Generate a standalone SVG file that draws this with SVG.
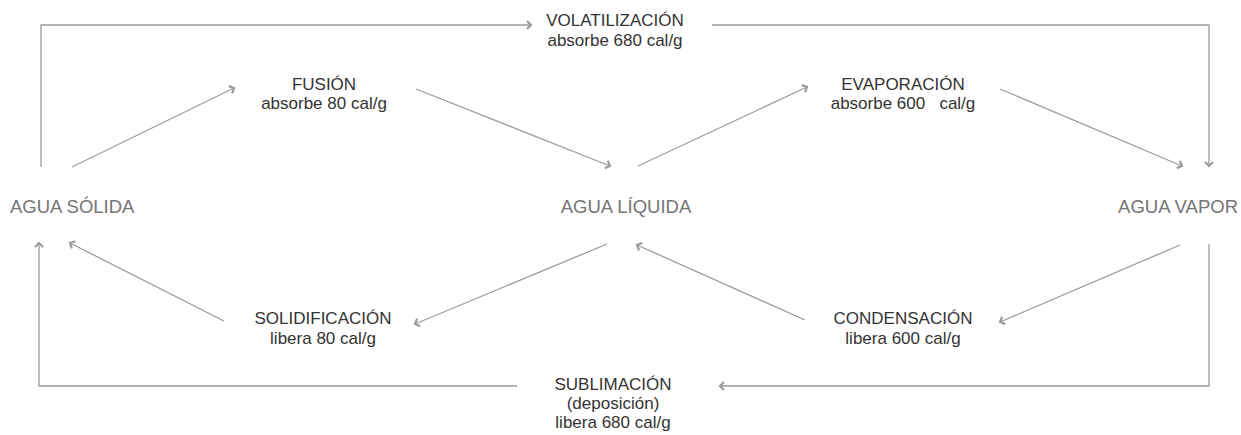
<svg xmlns="http://www.w3.org/2000/svg" width="1241" height="435" viewBox="0 0 1241 435">
<style>
.state{font-family:"Liberation Sans",Arial,sans-serif;font-size:18.5px;fill:#757575}
.lbl{font-family:"Liberation Sans",Arial,sans-serif;font-size:17px;fill:#333333;text-anchor:middle}
.conn{fill:none;stroke:#9c9c9c;stroke-width:1.3;marker-end:url(#arr)}
</style>
<defs>
<marker id="arr" markerUnits="userSpaceOnUse" markerWidth="10" markerHeight="12" refX="6" refY="5" orient="auto" viewBox="0 0 10 10">
<path d="M2,1 L6,5 L2,9" fill="none" stroke="#9c9c9c" stroke-width="2.2"/>
</marker>
</defs>
<rect width="1241" height="435" fill="#ffffff"/>
<g id="connectors">
<polyline class="conn" points="41,167 41,25 531,25"/>
<polyline class="conn" points="712,25 1209,25 1209,166"/>
<line class="conn" x1="72" y1="167" x2="234" y2="88"/>
<line class="conn" x1="416" y1="89" x2="610" y2="166"/>
<line class="conn" x1="638" y1="166" x2="807" y2="87"/>
<line class="conn" x1="1000" y1="89" x2="1182" y2="166"/>
<polyline class="conn" points="1209,244 1209,386 720,386"/>
<polyline class="conn" points="517,386 39,386 39,243"/>
<line class="conn" x1="224" y1="321" x2="70" y2="243"/>
<line class="conn" x1="607" y1="244" x2="415" y2="324"/>
<line class="conn" x1="805" y1="320" x2="637" y2="245"/>
<line class="conn" x1="1180" y1="245" x2="1000" y2="322"/>
</g>
<g id="solida"><text class="state" x="10" y="213">AGUA SÓLIDA</text></g>
<g id="liquida"><text class="state" x="626" y="213" text-anchor="middle">AGUA LÍQUIDA</text></g>
<g id="vapor"><text class="state" x="1238" y="213" text-anchor="end">AGUA VAPOR</text></g>
<g id="volatilizacion"><text class="lbl" x="615" y="26">VOLATILIZACIÓN</text><text class="lbl" x="615" y="46">absorbe 680 cal/g</text></g>
<g id="fusion"><text class="lbl" x="324" y="90">FUSIÓN</text><text class="lbl" x="324" y="109">absorbe 80 cal/g</text></g>
<g id="evaporacion"><text class="lbl" x="903" y="90">EVAPORACIÓN</text><text class="lbl" x="903" y="109" xml:space="preserve" style="white-space:pre">absorbe 600   cal/g</text></g>
<g id="solidificacion"><text class="lbl" x="323" y="324">SOLIDIFICACIÓN</text><text class="lbl" x="323" y="344">libera 80 cal/g</text></g>
<g id="condensacion"><text class="lbl" x="903" y="324">CONDENSACIÓN</text><text class="lbl" x="903" y="344">libera 600 cal/g</text></g>
<g id="sublimacion"><text class="lbl" x="613" y="390">SUBLIMACIÓN</text><text class="lbl" x="613" y="409">(deposición)</text><text class="lbl" x="613" y="428">libera 680 cal/g</text></g>
</svg>
